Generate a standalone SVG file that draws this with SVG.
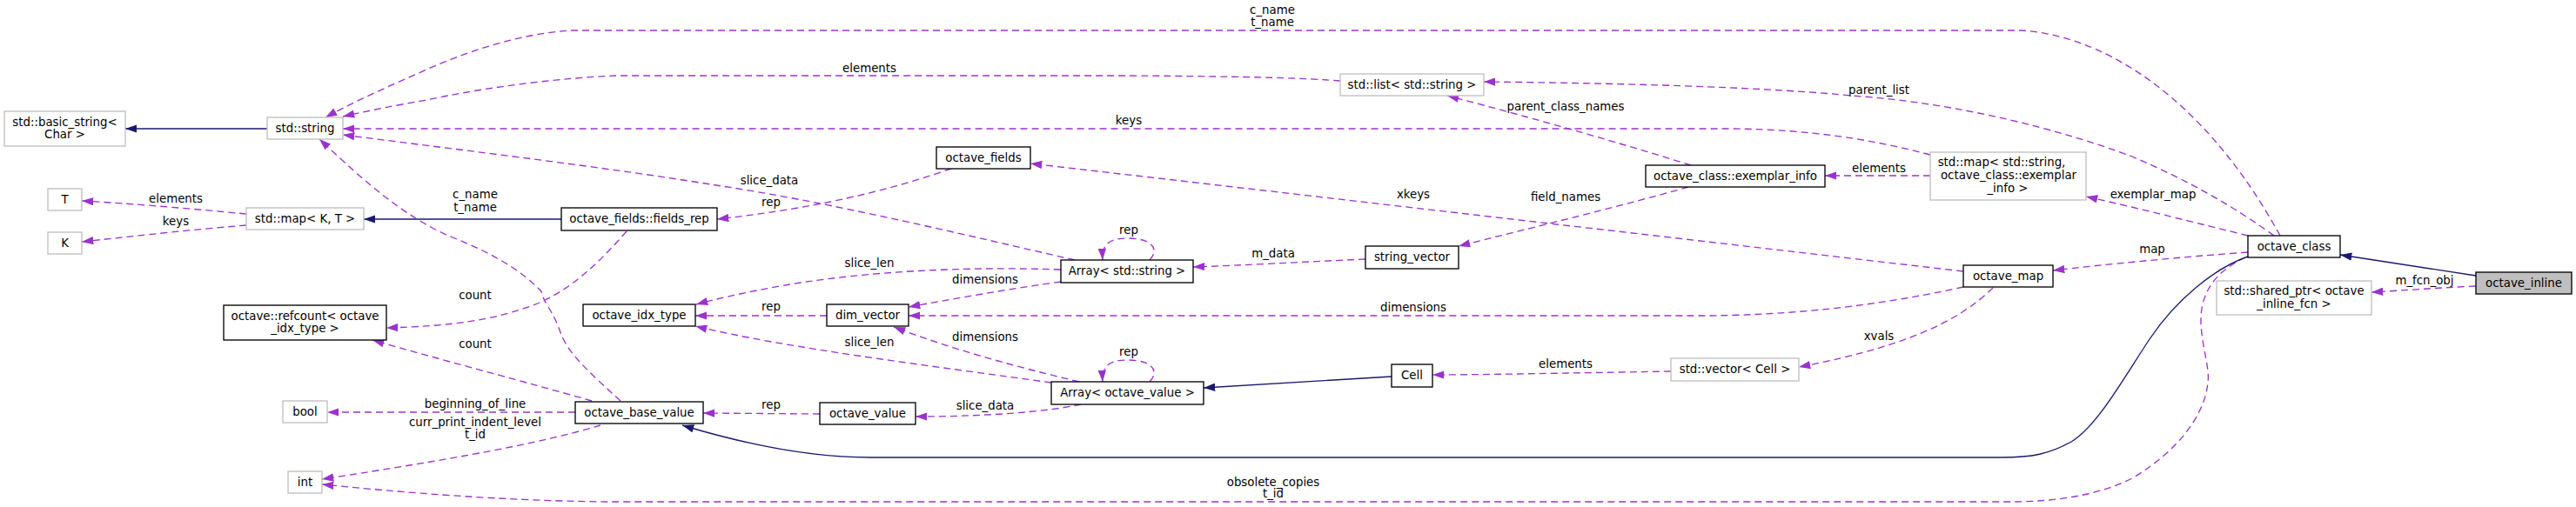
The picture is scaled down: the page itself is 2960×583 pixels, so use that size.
<svg xmlns="http://www.w3.org/2000/svg" width="2960" height="583" viewBox="0 0 2960 583">
<style>
text{font-family:"DejaVu Sans","Liberation Sans",sans-serif;font-size:13.33px;fill:#000;text-anchor:middle}
.n rect{fill:#fff;stroke:#000;stroke-width:1.33}
.n.x rect{stroke:#bfbfbf}
.n.cur rect{fill:#bfbfbf}
.u{fill:none;stroke:#9a32cd;stroke-width:1.33;stroke-dasharray:8,5}
.i{fill:none;stroke:#191970;stroke-width:1.33}
</style>
<defs>
<marker id="au" markerUnits="userSpaceOnUse" viewBox="0 0 13.3 9.4" markerWidth="13.3" markerHeight="9.4" refX="13.3" refY="4.7" orient="auto"><path d="M0,0 L13.3,4.7 L0,9.4 z" fill="#9a32cd"/></marker>
<marker id="ai" markerUnits="userSpaceOnUse" viewBox="0 0 13.3 9.4" markerWidth="13.3" markerHeight="9.4" refX="13.3" refY="4.7" orient="auto"><path d="M0,0 L13.3,4.7 L0,9.4 z" fill="#191970"/></marker>
</defs>
<rect width="2960" height="583" fill="#fff"/>
<g id="edges">
<path class="i" marker-end="url(#ai)" d="M307,148 L144,148"/>
<path class="i" marker-end="url(#ai)" d="M645,252 L418,252"/>
<path class="u" marker-end="url(#au)" d="M283,246 C220,240 150,234 94,231"/>
<text x="202" y="233">elements</text>
<path class="u" marker-end="url(#au)" d="M283,259 C220,264 150,272 94,278"/>
<text x="202" y="259">keys</text>
<path class="u" marker-end="url(#au)" d="M2620,271 C2600,235 2570,185 2520,135 C2470,85 2400,40 2323,35 L657,35 C600,38 540,58 490,80 C450,98 410,115 374,135"/>
<text x="1462" y="16">c_name</text><text x="1462" y="30">t_name</text>
<path class="u" marker-end="url(#au)" d="M1540,93 C1500,90 1450,88 1300,87 L707,87 C640,90 560,100 490,115 C450,122 420,128 394,134"/>
<text x="999" y="83">elements</text>
<path class="u" marker-end="url(#au)" d="M2218,178 C2150,160 2080,149 1990,148 L394,148"/>
<text x="1297" y="143">keys</text>
<path class="u" marker-end="url(#au)" d="M1235,299 C1100,268 950,232 823,213 C700,193 550,175 394,155"/>
<text x="884" y="212">slice_data</text>
<path class="u" marker-end="url(#au)" d="M713,461 C685,435 655,410 645,385 C635,355 625,350 622,335 C600,312 570,293 520,273 C460,248 410,200 367,160"/>
<text x="546" y="228">c_name</text><text x="546" y="243">t_name</text>
<path class="u" marker-end="url(#au)" d="M1093,194 C1040,212 960,237 824,252"/>
<text x="886" y="237">rep</text>
<path class="u" marker-end="url(#au)" d="M720,266 C690,300 660,330 620,348 C570,368 520,375 444,377"/>
<text x="546" y="344">count</text>
<path class="u" marker-end="url(#au)" d="M680,461 C600,438 500,412 428,391"/>
<text x="546" y="400">count</text>
<path class="u" marker-end="url(#au)" d="M661,474 L376,474"/>
<text x="546" y="469">beginning_of_line</text>
<path class="u" marker-end="url(#au)" d="M690,489 C620,510 520,528 370,551"/>
<text x="546" y="490">curr_print_indent_level</text><text x="546" y="504">t_id</text>
<path class="u" marker-end="url(#au)" d="M2580,296 C2555,308 2535,325 2530,355 C2525,385 2540,420 2537,440 C2533,480 2500,520 2450,550 C2410,570 2360,577 2310,577 L700,577 C600,576 500,570 370,557"/>
<text x="1463" y="559">obsolete_copies</text><text x="1463" y="572">t_id</text>
<path class="i" marker-end="url(#ai)" d="M2583,295 C2545,308 2500,345 2470,390 C2440,435 2410,490 2380,508 C2355,522 2335,526 2300,526 L1000,526 C930,526 860,512 784,489"/>
<path class="u" marker-end="url(#au)" d="M1219,310 C1100,306 1000,313 920,325 C870,333 830,342 800,350"/>
<text x="999" y="307">slice_len</text>
<path class="u" marker-end="url(#au)" d="M1219,324 C1160,332 1100,343 1044,353"/>
<text x="1132" y="326">dimensions</text>
<path class="u" marker-end="url(#au)" d="M1321,299 C1330,290 1330,275 1297,274 C1275,274 1266,280 1267,299"/>
<text x="1297" y="269">rep</text>
<path class="u" marker-end="url(#au)" d="M1569,298 C1500,301 1430,305 1371,307"/>
<text x="1463" y="296">m_data</text>
<path class="u" marker-end="url(#au)" d="M1940,215 C1870,235 1760,262 1676,283"/>
<text x="1799" y="231">field_names</text>
<path class="u" marker-end="url(#au)" d="M1943,190 C1880,170 1760,135 1663,110"/>
<text x="1799" y="127">parent_class_names</text>
<path class="u" marker-end="url(#au)" d="M2613,271 C2570,240 2520,210 2450,180 C2370,150 2250,118 2127,110 C2050,102 1900,96 1705,94"/>
<text x="2159" y="108">parent_list</text>
<path class="u" marker-end="url(#au)" d="M2218,202 L2097,202"/>
<text x="2159" y="198">elements</text>
<path class="u" marker-end="url(#au)" d="M2583,271 C2530,258 2460,240 2397,226"/>
<text x="2474" y="228">exemplar_map</text>
<path class="u" marker-end="url(#au)" d="M2583,290 C2500,296 2420,304 2359,311"/>
<text x="2473" y="291">map</text>
<path class="u" marker-end="url(#au)" d="M2256,312 L1184,188"/>
<text x="1624" y="228">xkeys</text>
<path class="u" marker-end="url(#au)" d="M2256,330 C2200,342 2100,362 1960,363 L1044,363"/>
<text x="1624" y="358">dimensions</text>
<path class="u" marker-end="url(#au)" d="M2290,331 C2260,360 2210,395 2067,422"/>
<text x="2159" y="391">xvals</text>
<path class="u" marker-end="url(#au)" d="M1920,427 C1800,429 1700,431 1646,431"/>
<text x="1799" y="423">elements</text>
<path class="i" marker-end="url(#ai)" d="M1599,433 L1383,446"/>
<path class="u" marker-end="url(#au)" d="M1321,439 C1330,430 1330,415 1297,414 C1275,414 1266,420 1267,439"/>
<text x="1297" y="409">rep</text>
<path class="u" marker-end="url(#au)" d="M1240,439 C1160,420 1090,400 1027,376"/>
<text x="1132" y="392">dimensions</text>
<path class="u" marker-end="url(#au)" d="M1208,440 C1080,422 900,400 799,375"/>
<text x="999" y="398">slice_len</text>
<path class="u" marker-end="url(#au)" d="M1242,465 C1200,474 1130,479 1052,479"/>
<text x="1132" y="471">slice_data</text>
<path class="u" marker-end="url(#au)" d="M942,476 L808,475"/>
<text x="886" y="470">rep</text>
<path class="u" marker-end="url(#au)" d="M950,363 L799,363"/>
<text x="886" y="357">rep</text>
<path class="i" marker-end="url(#ai)" d="M2845,317 L2689,293"/>
<path class="u" marker-end="url(#au)" d="M2845,329 C2800,331 2760,334 2725,336"/>
<text x="2786" y="327">m_fcn_obj</text>
</g>
<g id="octave_inline" class="n cur"><rect x="2845" y="313" width="110" height="25"/><text x="2900" y="330">octave_inline</text></g>
<g id="octave_class" class="n"><rect x="2583" y="271" width="106" height="25"/><text x="2636" y="288">octave_class</text></g>
<g id="shared_ptr" class="n x"><rect x="2547" y="323" width="178" height="39"/><text x="2636" y="339">std::shared_ptr&lt; octave</text><text x="2636" y="353.5">_inline_fcn &gt;</text></g>
<g id="octave_map" class="n"><rect x="2256" y="305" width="103" height="25"/><text x="2307.5" y="322">octave_map</text></g>
<g id="map_exemplar" class="n x"><rect x="2218" y="175" width="179" height="55"/><text x="2300" y="191">std::map&lt; std::string,</text><text x="2308" y="206">octave_class::exemplar</text><text x="2307" y="220.5">_info &gt;</text></g>
<g id="exemplar_info" class="n"><rect x="1891" y="190" width="206" height="25"/><text x="1994" y="207">octave_class::exemplar_info</text></g>
<g id="vector_cell" class="n x"><rect x="1920" y="412" width="147" height="26"/><text x="1993.5" y="429">std::vector&lt; Cell &gt;</text></g>
<g id="list_string" class="n x"><rect x="1540" y="85" width="165" height="25"/><text x="1622.5" y="102">std::list&lt; std::string &gt;</text></g>
<g id="string_vector" class="n"><rect x="1569" y="283" width="107" height="26"/><text x="1622.5" y="300">string_vector</text></g>
<g id="Cell" class="n"><rect x="1599" y="419" width="47" height="26"/><text x="1622.5" y="436">Cell</text></g>
<g id="array_string" class="n"><rect x="1219" y="299" width="152" height="26"/><text x="1295" y="316">Array&lt; std::string &gt;</text></g>
<g id="array_octave_value" class="n"><rect x="1208" y="439" width="175" height="26"/><text x="1295.5" y="456">Array&lt; octave_value &gt;</text></g>
<g id="octave_fields" class="n"><rect x="1076" y="169" width="108" height="25"/><text x="1130" y="186">octave_fields</text></g>
<g id="dim_vector" class="n"><rect x="950" y="350" width="94" height="25"/><text x="997" y="367">dim_vector</text></g>
<g id="octave_value" class="n"><rect x="942" y="463" width="110" height="25"/><text x="997" y="480">octave_value</text></g>
<g id="octave_idx_type" class="n"><rect x="670" y="350" width="129" height="25"/><text x="734.5" y="367">octave_idx_type</text></g>
<g id="octave_base_value" class="n"><rect x="661" y="462" width="147" height="25"/><text x="734.5" y="479">octave_base_value</text></g>
<g id="fields_rep" class="n"><rect x="645" y="239" width="179" height="26"/><text x="734.5" y="256">octave_fields::fields_rep</text></g>
<g id="refcount" class="n"><rect x="257" y="351" width="187" height="40"/><text x="350.5" y="367.5">octave::refcount&lt; octave</text><text x="350.5" y="382">_idx_type &gt;</text></g>
<g id="bool" class="n x"><rect x="325" y="461" width="51" height="25"/><text x="350.5" y="478">bool</text></g>
<g id="int" class="n x"><rect x="331" y="542" width="39" height="25"/><text x="350.5" y="559">int</text></g>
<g id="std_string" class="n x"><rect x="307" y="135" width="87" height="25"/><text x="350.5" y="152">std::string</text></g>
<g id="map_KT" class="n x"><rect x="283" y="239" width="135" height="25"/><text x="350.5" y="256">std::map&lt; K, T &gt;</text></g>
<g id="basic_string" class="n x"><rect x="5" y="128" width="139" height="40"/><text x="74.5" y="144.5">std::basic_string&lt;</text><text x="74.5" y="159">Char &gt;</text></g>
<g id="T" class="n x"><rect x="55" y="217" width="39" height="25"/><text x="74.5" y="234">T</text></g>
<g id="K" class="n x"><rect x="55" y="267" width="39" height="25"/><text x="74.5" y="284">K</text></g>
</svg>
